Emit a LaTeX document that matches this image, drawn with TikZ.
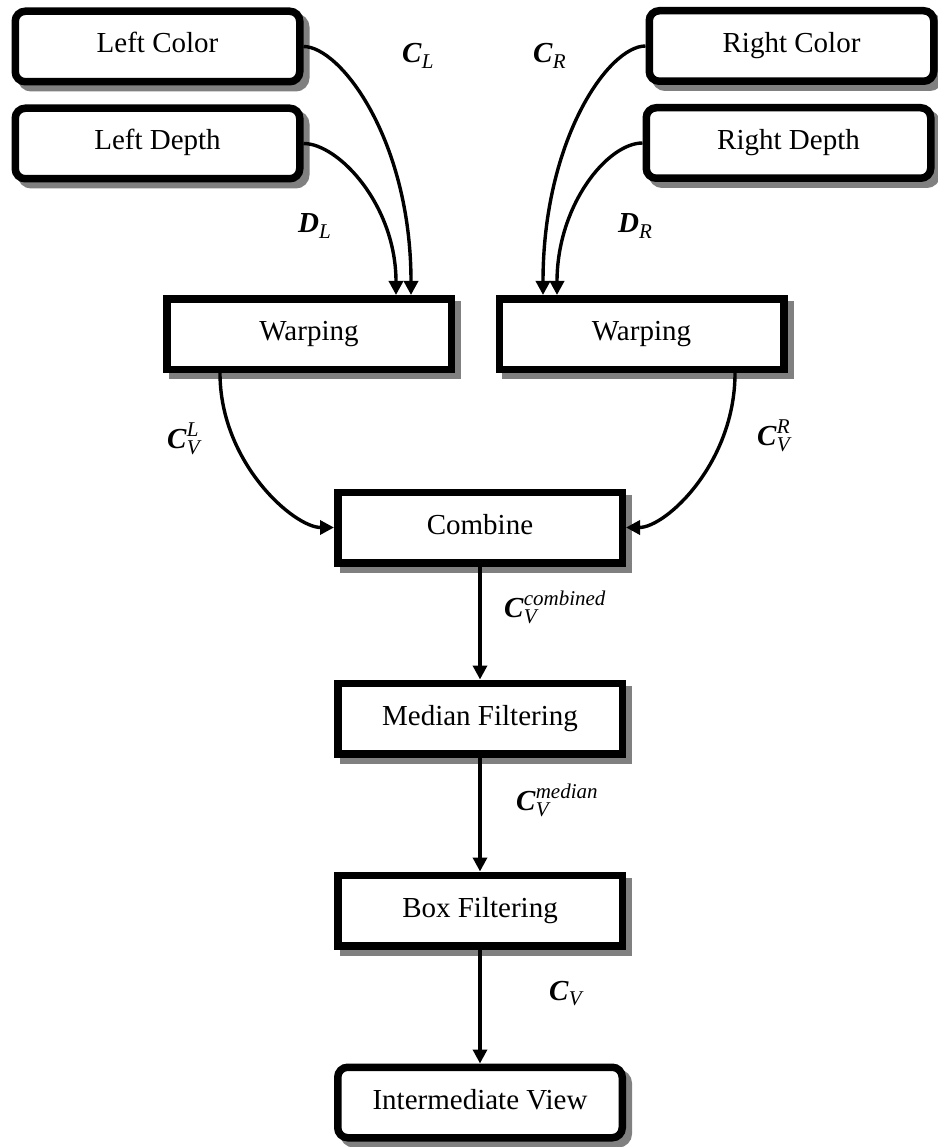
\documentclass[tikz,border=0pt]{standalone}
\usepackage{fontspec}
\setmainfont{Liberation Serif}
\usepackage{amsmath}
\DeclareMathSizes{29}{29}{21}{15}
\usetikzlibrary{arrows.meta,shadows}
\definecolor{shadowgray}{RGB}{128,128,128}
\begin{document}
\begin{tikzpicture}[x=1pt,y=-1pt,
  basebox/.style={draw=black, line width=7.5pt, fill=white,
    minimum width=284.5pt, minimum height=70.5pt, inner sep=0pt,
    font=\fontsize{29}{34}\selectfont, text height=20pt, text depth=7pt,
    drop shadow={shadow xshift=6pt, shadow yshift=-6pt, fill=shadowgray,
      draw=shadowgray, line width=7.5pt, opacity=1}},
  procbox/.style={basebox},
  roundbox/.style={basebox, rounded corners=10pt},
  lbl/.style={anchor=base west, inner sep=0pt, font=\fontsize{29}{34}\selectfont},
  conn/.style={line width=3.4pt, -{Triangle[length=14pt,width=14pt]}}]
\useasboundingbox (0,0) rectangle (937,1147);

% input boxes
\node[roundbox] (LC) at (157.5,46.5) {Left Color};
\node[roundbox] (LD) at (157.5,143.5) {Left Depth};
\node[roundbox] (RC) at (791.5,46) {Right Color};
\node[roundbox] (RD) at (788.5,143) {Right Depth};

% processing boxes
\node[procbox] (WL) at (309,334) {Warping};
\node[procbox] (WR) at (641.5,334) {Warping};
\node[procbox] (CB) at (480,527.5) {Combine};
\node[procbox] (MF) at (480,718.5) {Median Filtering};
\node[procbox] (BF) at (480,910.5) {Box Filtering};
\node[roundbox] (IV) at (480,1102.5) {Intermediate View};

% connectors
\draw[conn] (LC.east) .. controls +(37,0) and +(0,-155) .. ([xshift=102pt]WL.north);
\draw[conn] (LD.east) .. controls +(35,0) and +(0,-90) .. ([xshift=87pt]WL.north);
\draw[conn] (RC.west) .. controls +(-37,0) and +(0,-155) .. ([xshift=-98.5pt]WR.north);
\draw[conn] (RD.west) .. controls +(-35,0) and +(0,-90) .. ([xshift=-84.5pt]WR.north);
\draw[conn] ([xshift=-89pt]WL.south) .. controls +(0,90) and +(-40,0) .. (CB.west);
\draw[conn] ([xshift=93.5pt]WR.south) .. controls +(0,90) and +(40,0) .. (CB.east);
\draw[conn] (CB.south) -- (MF.north);
\draw[conn] (MF.south) -- (BF.north);
\draw[conn] (BF.south) -- (IV.north);

% labels
\node[lbl] (lCL) at (402,63) {$\textbf{\textit{C}}_{\textit{L}}$};
\node[lbl] (lDL) at (298,233) {$\textbf{\textit{D}}_{\textit{L}}$};
\node[lbl] (lCR) at (533,63) {$\textbf{\textit{C}}_{\textit{R}}$};
\node[lbl] (lDR) at (618,233) {$\textbf{\textit{D}}_{\textit{R}}$};
\node[lbl] (lCVL) at (167,448) {$\textbf{\textit{C}}^{\textit{L}}_{\textit{V}}$};
\node[lbl] (lCVR) at (757,445) {$\textbf{\textit{C}}^{\textit{R}}_{\textit{V}}$};
\node[lbl] (lCVc) at (504,617) {$\textbf{\textit{C}}^{\textit{combined}}_{\textit{V}}$};
\node[lbl] (lCVm) at (516,810) {$\textbf{\textit{C}}^{\textit{median}}_{\textit{V}}$};
\node[lbl] (lCV) at (549,1000) {$\textbf{\textit{C}}_{\textit{V}}$};
\end{tikzpicture}
\end{document}
